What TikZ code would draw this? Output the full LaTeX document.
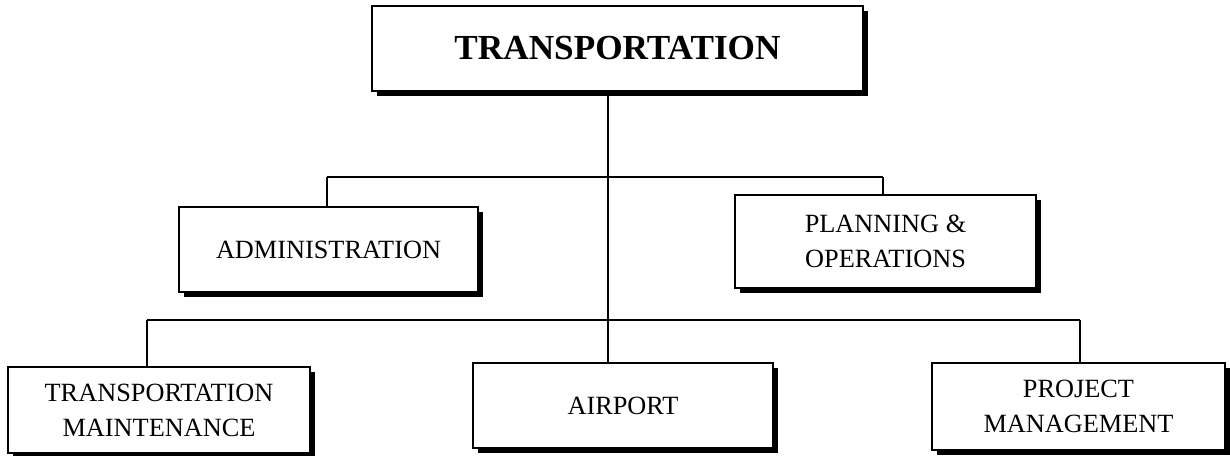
\documentclass[tikz,border=0pt]{standalone}
\usepackage{fontspec}
\setmainfont{Liberation Serif}
\usepackage{xcolor}
\usepackage{tikz}
\usetikzlibrary{calc,positioning,shadows}
\definecolor{inkc}{HTML}{000000}
\tikzset{
  ln/.style={inkc,line width=0.75pt},
  box/.style={draw=inkc,line width=0.75pt,fill=white,align=center,inner sep=2pt,
    font=\fontsize{13.15}{17.5}\selectfont,
    drop shadow={shadow xshift=2.25pt,shadow yshift=-2.25pt,fill=inkc,opacity=1}},
  topbox/.style={box,font=\fontsize{17.6}{21}\selectfont\bfseries}
}
\begin{document}
\begin{tikzpicture}[x=0.5pt,y=-0.5pt]
\useasboundingbox (0,0) rectangle (1230,455);
\node[topbox,minimum width=245.5pt,minimum height=42.5pt] (trans) at (617.5,48.5) {TRANSPORTATION};
\node[box,minimum width=149.5pt,minimum height=42.5pt] (admin) at (328.5,249.5) {ADMINISTRATION};
\node[box,minimum width=150.5pt,minimum height=46.5pt] (plan) at (885.5,241.5) {PLANNING \&\\OPERATIONS};
\node[box,minimum width=151pt,minimum height=43pt] (maint) at (159,410) {TRANSPORTATION\\MAINTENANCE};
\node[box,minimum width=150pt,minimum height=42.5pt] (airport) at (623,405.5) {AIRPORT};
\node[box,minimum width=146.5pt,minimum height=43.5pt] (projm) at (1078.5,406.5) {PROJECT\\MANAGEMENT};
\coordinate (hubA) at (608,177);
\coordinate (hubAl) at (327,177);
\coordinate (hubAr) at (883,177);
\coordinate (hubBl) at (147,320);
\coordinate (hubBr) at (1080,320);
\draw[ln] (trans.south -| hubA) -- (airport.north -| hubA);
\draw[ln] (hubAl) -- (hubAr);
\draw[ln] (hubAl) -- (hubAl |- admin.north);
\draw[ln] (hubAr) -- (hubAr |- plan.north);
\draw[ln] (hubBl) -- (hubBr);
\draw[ln] (hubBl) -- (hubBl |- maint.north);
\draw[ln] (hubBr) -- (hubBr |- projm.north);
\end{tikzpicture}
\end{document}
